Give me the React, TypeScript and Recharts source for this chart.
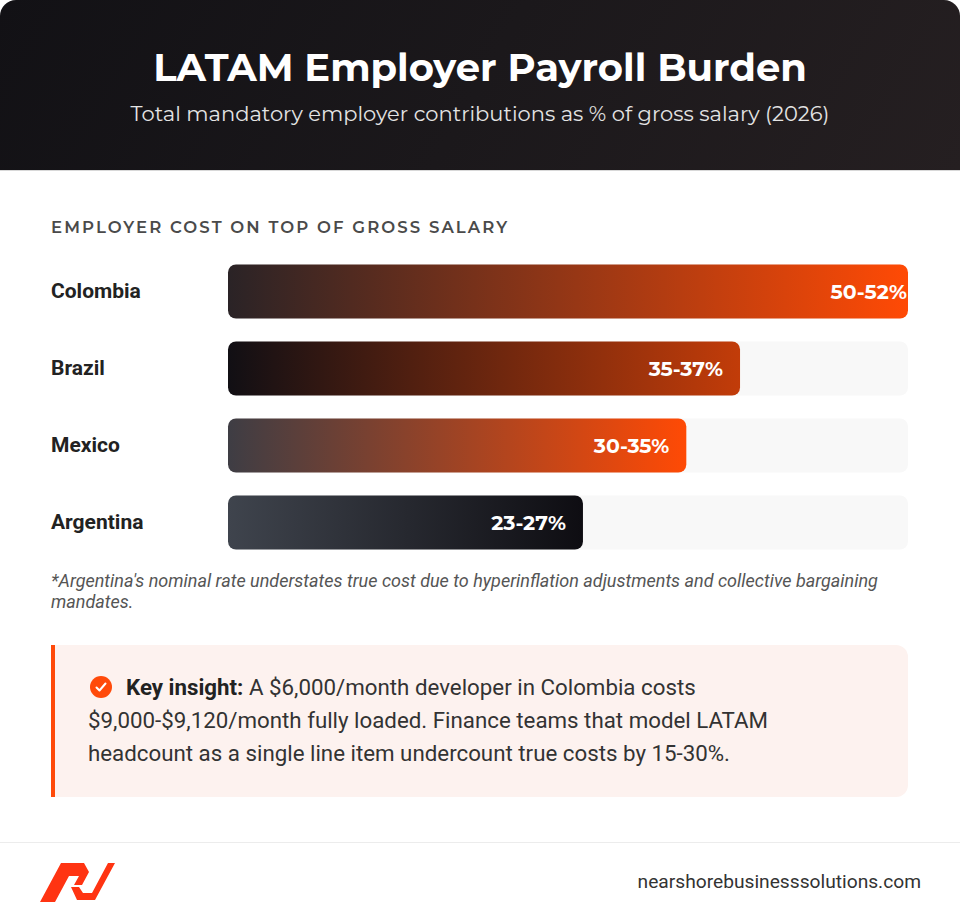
import React from 'react';
import { BarChart, Bar, XAxis, YAxis, Cell, LabelList } from 'recharts';

const countries = ['Colombia', 'Brazil', 'Mexico', 'Argentina'];
const rateLabels = ['50-52%', '35-37%', '30-35%', '23-27%'];
// bar fill as drawn, % of the track
const fillShare = [100, 75.3, 67.4, 52.2];
const gradientStops = [
  ['#2a2326', '#ff4a05'],
  ['#110f14', '#c23c09'],
  ['#3e3d44', '#ff4a05'],
  ['#3f444d', '#0e0d12'],
];

const data = countries.map((name, i) => ({
  name,
  share: fillShare[i],
  label: rateLabels[i],
}));

const heading = '"Montserrat", "Inter", "Open Sans", sans-serif';
const body = 'Roboto, "Noto Sans", sans-serif';

const CountryTick = ({ y, payload }: any) => (
  <text x={51} y={y} dy={7} textAnchor="start" fontFamily={body} fontWeight={700} fontSize={21} fill="#222">
    {payload.value}
  </text>
);

const RateLabel = ({ x, y, width, height, value, index }: any) => (
  <text
    x={x + width - (fillShare[index] >= 100 ? 1 : 17)}
    y={y + height / 2}
    dy={7}
    textAnchor="end"
    fontFamily={heading}
    fontWeight={700}
    fontSize={20.5}
    fill="#fff"
  >
    {value}
  </text>
);

const Logo = () => (
  <svg width={90} height={50} viewBox="36 856 90 50" style={{ position: 'absolute', left: 36, top: 856 }}>
    <path d="M40,902 L61,863 L84,863 L89,872 L82,885 L74,885 L79,876 L69,876 L55,902 Z" fill="#ff3412" />
    <path d="M71,887 L79,887 L83,893 L92,893 L108,863 L115,863 L95,900 L77,900 Z" fill="#ff3412" />
  </svg>
);

export default function App() {
  return (
    <div
      style={{
        position: 'absolute',
        left: 0,
        top: 0,
        width: 960,
        height: 920,
        borderRadius: 16,
        overflow: 'hidden',
        background: '#fff',
      }}
    >
      <div
        style={{
          position: 'absolute',
          left: 0,
          top: 0,
          width: 960,
          height: 170,
          background: 'linear-gradient(120deg, #121115 0%, #1b181b 50%, #251f21 100%)',
          borderBottom: '1px solid #d8d8d8',
          textAlign: 'center',
          color: '#fff',
        }}
      >
        <div style={{ position: 'absolute', top: 44, width: 960, fontFamily: heading, fontWeight: 700, fontSize: 38.5, lineHeight: '48px' }}>
          LATAM Employer Payroll Burden
        </div>
        <div style={{ position: 'absolute', top: 100, width: 960, fontFamily: heading, fontWeight: 400, fontSize: 21, lineHeight: '28px', color: '#e4e4e4' }}>
          Total mandatory employer contributions as % of gross salary (2026)
        </div>
      </div>

      <div
        style={{
          position: 'absolute',
          left: 51,
          top: 217,
          fontFamily: heading,
          fontWeight: 600,
          fontSize: 16.5,
          lineHeight: '20px',
          letterSpacing: 2.1,
          color: '#4a4a4a',
        }}
      >
        EMPLOYER COST ON TOP OF GROSS SALARY
      </div>

      <div style={{ position: 'absolute', left: 0, top: 250 }}>
        <BarChart
          width={960}
          height={313}
          data={data}
          layout="vertical"
          margin={{ top: 2.5, right: 52, bottom: 2.5, left: 0 }}
          barSize={54}
        >
          <defs>
            {gradientStops.map(([from, to], i) => (
              <linearGradient key={i} id={`bar-grad-${i}`} x1="0" y1="0" x2="1" y2="0">
                <stop offset="0%" stopColor={from} />
                <stop offset="100%" stopColor={to} />
              </linearGradient>
            ))}
          </defs>
          <XAxis type="number" domain={[0, 100]} hide />
          <YAxis
            type="category"
            dataKey="name"
            width={228}
            axisLine={false}
            tickLine={false}
            tick={<CountryTick />}
          />
          <Bar
            dataKey="share"
            radius={8}
            background={{ fill: '#f8f8f8', radius: 8 }}
            isAnimationActive={false}
          >
            {data.map((d, i) => (
              <Cell key={d.name} fill={`url(#bar-grad-${i})`} />
            ))}
            <LabelList dataKey="label" content={<RateLabel />} />
          </Bar>
        </BarChart>
      </div>

      <div
        style={{
          position: 'absolute',
          left: 51,
          top: 570,
          fontFamily: body,
          fontStyle: 'italic',
          fontSize: 18,
          lineHeight: '21px',
          color: '#555',
          whiteSpace: 'nowrap',
        }}
      >
        *Argentina's nominal rate understates true cost due to hyperinflation adjustments and collective bargaining
        <br />
        mandates.
      </div>

      <div
        style={{
          position: 'absolute',
          left: 51,
          top: 645,
          width: 853,
          height: 152,
          background: '#fdf2ef',
          borderLeft: '4px solid #ff4a0a',
          borderRadius: '0 12px 12px 0',
        }}
      >
        <div
          style={{
            position: 'absolute',
            left: 33,
            top: 26,
            fontFamily: body,
            fontSize: 22.3,
            lineHeight: '33px',
            color: '#333',
            whiteSpace: 'nowrap',
          }}
        >
          <svg width={22} height={22} viewBox="0 0 22 22" style={{ verticalAlign: -3, marginLeft: 2, marginRight: 14 }}>
            <circle cx={11} cy={11} r={11} fill="#ff4a0a" />
            <path d="M6.5,11.5 L9.5,14.5 L15.5,7.5" stroke="#fff" strokeWidth={2} fill="none" strokeLinecap="round" strokeLinejoin="round" />
          </svg>
          <b style={{ color: '#222' }}>Key insight:</b> A $6,000/month developer in Colombia costs
          <br />
          $9,000-$9,120/month fully loaded. Finance teams that model LATAM
          <br />
          headcount as a single line item undercount true costs by 15-30%.
        </div>
      </div>

      <div style={{ position: 'absolute', left: 0, top: 842, width: 960, height: 1, background: '#ececec' }} />
      <Logo />
      <div
        style={{
          position: 'absolute',
          right: 39,
          top: 869,
          fontFamily: body,
          fontSize: 19.2,
          lineHeight: '26px',
          color: '#333',
        }}
      >
        nearshorebusinesssolutions.com
      </div>
    </div>
  );
}
